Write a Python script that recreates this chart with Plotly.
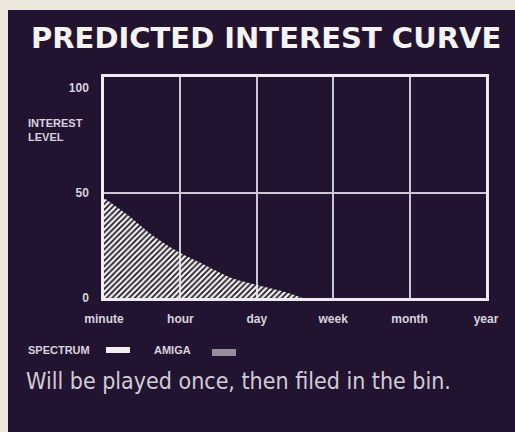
import plotly.graph_objects as go

# Time scale categories along the x axis
time_labels = ["minute", "hour", "day", "week", "month", "year"]
time_pos = [0, 1, 2, 3, 4, 5]

# Predicted interest curve (Amiga), sampled along the time scale
curve_x = [0, 0.31, 0.63, 0.97, 1.32, 1.67, 2.0, 2.37, 2.6]
curve_y = [47.6, 39.5, 30.0, 22.0, 15.7, 9.5, 6.2, 2.9, 0]

# Interest level ticks
level_vals = [0, 50, 100]
level_text = ["0", "50", "100"]

W, H = 515, 432
ML, MR, MT, MB = 104, 29, 77, 134
PW, PH = W - ML - MR, H - MT - MB

BG = "#221430"
CREAM = "#ebe7da"
INK = "#d9d2de"
GRID = "#cdc6d4"
HATCH = "#f2f4ea"


def px(x):
    return (x - ML) / PW


def py(y):
    return (H - MB - y) / PH


fig = go.Figure()

fig.add_trace(go.Scatter(
    x=curve_x, y=curve_y, mode="lines",
    line=dict(width=0, color=HATCH, shape="spline", smoothing=0.8),
    fill="tozeroy",
    fillcolor="rgba(0,0,0,0)",
    fillpattern=dict(shape="/", fgcolor=HATCH, fgopacity=1, bgcolor="rgba(0,0,0,0)",
                     size=4, solidity=0.55),
    hoverinfo="skip", showlegend=False,
))

small = dict(family="Liberation Sans, Arial, sans-serif", size=12, color=INK, weight="bold")

fig.update_xaxes(
    range=[0, 5], tickmode="array", tickvals=time_pos, ticktext=time_labels,
    showgrid=True, gridcolor=GRID, gridwidth=1.5, zeroline=False,
    showline=True, linecolor="#eeeaf0", linewidth=2.5, mirror=True,
    ticks="", ticklabelstandoff=8, tickfont=small, fixedrange=True,
)
fig.update_yaxes(
    range=[0, 105.2], tickmode="array", tickvals=level_vals, ticktext=level_text,
    showgrid=False, zeroline=False,
    minor=dict(tickmode="array", tickvals=[50], showgrid=True,
               gridcolor=GRID, gridwidth=1.5, ticks=""),
    showline=True, linecolor="#eeeaf0", linewidth=2.5, mirror=True,
    ticks="", ticklabelstandoff=10, tickfont=small, fixedrange=True,
)

shapes = [
    # cream page edges
    dict(type="rect", xref="paper", yref="paper", x0=px(0), x1=px(8), y0=py(H), y1=py(0),
         fillcolor=CREAM, line=dict(width=0), layer="above"),
    dict(type="rect", xref="paper", yref="paper", x0=px(0), x1=px(W), y0=py(10), y1=py(0),
         fillcolor=CREAM, line=dict(width=0), layer="above"),
    # key swatches
    dict(type="rect", xref="paper", yref="paper", x0=px(106), x1=px(130), y0=py(353), y1=py(347),
         fillcolor="#f2eef2", line=dict(width=0)),
    dict(type="rect", xref="paper", yref="paper", x0=px(212), x1=px(236), y0=py(356), y1=py(349),
         fillcolor="#948e9c", line=dict(width=0)),
]

annotations = [
    dict(text="PREDICTED INTEREST CURVE", xref="paper", yref="paper",
         x=px(266), y=py(38), xanchor="center", yanchor="middle", showarrow=False,
         font=dict(family="DejaVu Sans, Liberation Sans, sans-serif", size=29, color="#f5f2f2",
                   weight="bold")),
    dict(text="INTEREST<br>LEVEL", xref="paper", yref="paper",
         x=px(26), y=py(130), xanchor="left", yanchor="middle", align="left",
         showarrow=False, font=dict(small, size=11)),
    dict(text="SPECTRUM", xref="paper", yref="paper",
         x=px(26), y=py(350), xanchor="left", yanchor="middle", showarrow=False,
         font=dict(small, size=11)),
    dict(text="AMIGA", xref="paper", yref="paper",
         x=px(152), y=py(350), xanchor="left", yanchor="middle", showarrow=False,
         font=dict(small, size=11)),
    dict(text="Will be played once, then filed in the bin.", xref="paper", yref="paper",
         x=px(24), y=py(381), xanchor="left", yanchor="middle", showarrow=False,
         font=dict(family="Liberation Sans Narrow, DejaVu Sans Condensed, Liberation Sans, sans-serif",
                   size=23, color="#d3ccd6")),
]

fig.update_layout(
    width=W, height=H,
    margin=dict(l=ML, r=MR, t=MT, b=MB),
    paper_bgcolor=BG, plot_bgcolor=BG,
    shapes=shapes, annotations=annotations,
    showlegend=False,
)

fig.write_html("out.html", config={"displayModeBar": False})
